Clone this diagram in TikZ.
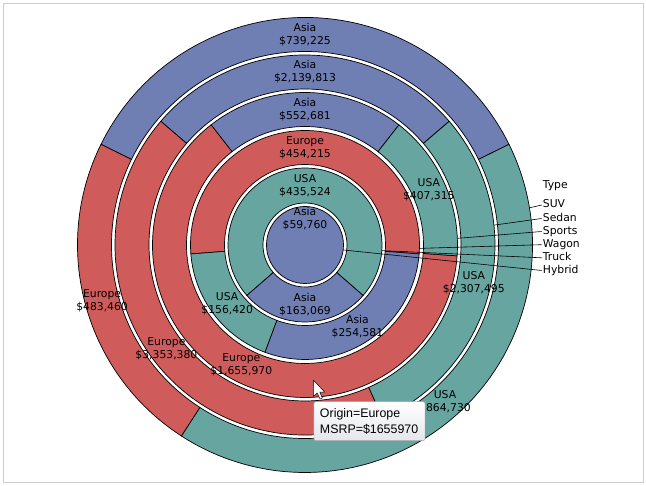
\documentclass[tikz,border=0pt]{standalone}
\usepackage{fontspec}
\setmainfont{DejaVu Sans}
\newfontfamily\tipfont{Liberation Sans}
\usepackage{xcolor}
\usepackage{tikz}
\definecolor{asiablue}{HTML}{6F7EB3}
\definecolor{europered}{HTML}{D05B5B}
\definecolor{usagreen}{HTML}{66A5A0}
\definecolor{framegray}{HTML}{CDCDCD}
\definecolor{tipgray}{HTML}{E4E6EC}

\begin{document}
\begin{tikzpicture}[x=1pt,y=1pt,
    slice/.style={draw=black,line width=.7pt},
    asia/.style={slice,fill=asiablue},
    europe/.style={slice,fill=europered},
    usa/.style={slice,fill=usagreen},
    lbl/.style={align=center,inner sep=0pt,font=\fontsize{10.8}{13}\selectfont},
    typeitem/.style={anchor=west,inner xsep=1pt,inner ysep=0pt,text height=8pt,text depth=2.5pt,font=\fontsize{10.8}{13}\selectfont},
    leader/.style={draw=black,line width=.6pt},
    tooltip/.style={draw=black!35,rounded corners=2pt,top color=white,bottom color=tipgray,minimum width=111pt,minimum height=39pt,text width=99pt,align=left,inner xsep=6pt,font=\tipfont\fontsize{12.4}{16}\selectfont}]
    \useasboundingbox (-305,-241) rectangle (341,245);
    \draw[framegray,line width=1pt] (-301,241) rectangle (338,-238);

    % SUV
    \draw[asia] (26.256:193.5) arc[start angle=26.256,end angle=153.744,radius=193.5] -- (153.744:227.5) arc[start angle=153.744,end angle=26.256,radius=227.5] -- cycle;
    \draw[europe] (153.744:193.5) arc[start angle=153.744,end angle=237.123,radius=193.5] -- (237.123:227.5) arc[start angle=237.123,end angle=153.744,radius=227.5] -- cycle;
    \draw[usa] (237.123:193.5) arc[start angle=237.123,end angle=386.256,radius=193.5] -- (386.256:227.5) arc[start angle=386.256,end angle=237.123,radius=227.5] -- cycle;
    % Sedan
    \draw[asia] (40.623:156) arc[start angle=40.623,end angle=139.377,radius=156] -- (139.377:190) arc[start angle=139.377,end angle=40.623,radius=190] -- cycle;
    \draw[europe] (139.377:156) arc[start angle=139.377,end angle=294.134,radius=156] -- (294.134:190) arc[start angle=294.134,end angle=139.377,radius=190] -- cycle;
    \draw[usa] (294.134:156) arc[start angle=294.134,end angle=400.623,radius=156] -- (400.623:190) arc[start angle=400.623,end angle=294.134,radius=190] -- cycle;
    % Sports
    \draw[asia] (51.971:118.5) arc[start angle=51.971,end angle=128.029,radius=118.5] -- (128.029:152.5) arc[start angle=128.029,end angle=51.971,radius=152.5] -- cycle;
    \draw[europe] (128.029:118.5) arc[start angle=128.029,end angle=355.918,radius=118.5] -- (355.918:152.5) arc[start angle=355.918,end angle=128.029,radius=152.5] -- cycle;
    \draw[usa] (355.918:118.5) arc[start angle=355.918,end angle=411.971,radius=118.5] -- (411.971:152.5) arc[start angle=411.971,end angle=355.918,radius=152.5] -- cycle;
    % Wagon
    \draw[europe] (-4.495:80.5) arc[start angle=-4.495,end angle=184.495,radius=80.5] -- (184.495:114.5) arc[start angle=184.495,end angle=-4.495,radius=114.5] -- cycle;
    \draw[usa] (184.495:80.5) arc[start angle=184.495,end angle=249.579,radius=80.5] -- (249.579:114.5) arc[start angle=249.579,end angle=184.495,radius=114.5] -- cycle;
    \draw[asia] (249.579:80.5) arc[start angle=249.579,end angle=355.505,radius=80.5] -- (355.505:114.5) arc[start angle=355.505,end angle=249.579,radius=114.5] -- cycle;
    % Truck
    \draw[usa] (-40.965:42) arc[start angle=-40.965,end angle=220.965,radius=42] -- (220.965:77) arc[start angle=220.965,end angle=-40.965,radius=77] -- cycle;
    \draw[asia] (220.965:42) arc[start angle=220.965,end angle=319.035,radius=42] -- (319.035:77) arc[start angle=319.035,end angle=220.965,radius=77] -- cycle;
    % Hybrid
    \draw[asia] (0,0) circle[radius=38.5];

    \node[lbl] (suvasia) at (90:210.5) {Asia\\\$739,225};
    \node[lbl] (suveur) at (195.43:210.5) {Europe\\\$483,460};
    \node[lbl] (suvusa) at (311.69:210.5) {USA\\\$864,730};
    \node[lbl] (sedasia) at (90:173) {Asia\\\$2,139,813};
    \node[lbl] (sedeur) at (216.76:173) {Europe\\\$3,353,380};
    \node[lbl] (sedusa) at (347.38:173) {USA\\\$2,307,495};
    \node[lbl] (spoasia) at (90:135.5) {Asia\\\$552,681};
    \node[lbl] (spoeur) at (241.97:135.5) {Europe\\\$1,655,970};
    \node[lbl] (spousa) at (23.94:135.5) {USA\\\$407,315};
    \node[lbl] (wageur) at (90:97.5) {Europe\\\$454,215};
    \node[lbl] (wagusa) at (217.04:97.5) {USA\\\$156,420};
    \node[lbl] (wagasia) at (302.54:97.5) {Asia\\\$254,581};
    \node[lbl] (trkusa) at (90:59.5) {USA\\\$435,524};
    \node[lbl] (trkasia) at (270:59.5) {Asia\\\$163,069};
    \node[lbl] (hybasia) at (90:26.5) {Asia\\\$59,760};

    \coordinate (suvend) at (9.4:227.5);
    \coordinate (sedend) at (6:190);
    \coordinate (spoend) at (2.5:152.5);
    \coordinate (wagend) at (-1.7:114.5);
    \coordinate (trkend) at (-4.2:77);
    \coordinate (hybend) at (-7.4:38.5);

    \node[typeitem] (type) at (236.7,59) {Type};
    \node[typeitem] (suv) at (236.7,40) {SUV};
    \node[typeitem] (sedan) at (236.7,26.5) {Sedan};
    \node[typeitem] (sports) at (236.7,13.5) {Sports};
    \node[typeitem] (wagon) at (236.7,0.3) {Wagon};
    \node[typeitem] (truck) at (236.7,-12.8) {Truck};
    \node[typeitem] (hybrid) at (236.7,-25.5) {Hybrid};

    \draw[leader] (suv.west) -- (suvend);
    \draw[leader] (sedan.west) -- (sedend);
    \draw[leader] (sports.west) -- (spoend);
    \draw[leader] (wagon.west) -- (wagend);
    \draw[leader] (truck.west) -- (trkend);
    \draw[leader] (hybrid.west) -- (hybend);

    % pointer and tip
    \draw[fill=white,line width=.5pt,line join=round] (8.3,-135) -- ++(0,-16.5) -- ++(4,3.5) -- ++(2.7,-6) -- ++(2.4,1) -- ++(-2.6,5.8) -- ++(5,0) -- cycle;
    \node[tooltip] (tip) at (64.5,-176.2) {Origin=Europe\\MSRP=\$1655970};
\end{tikzpicture}
\end{document}
